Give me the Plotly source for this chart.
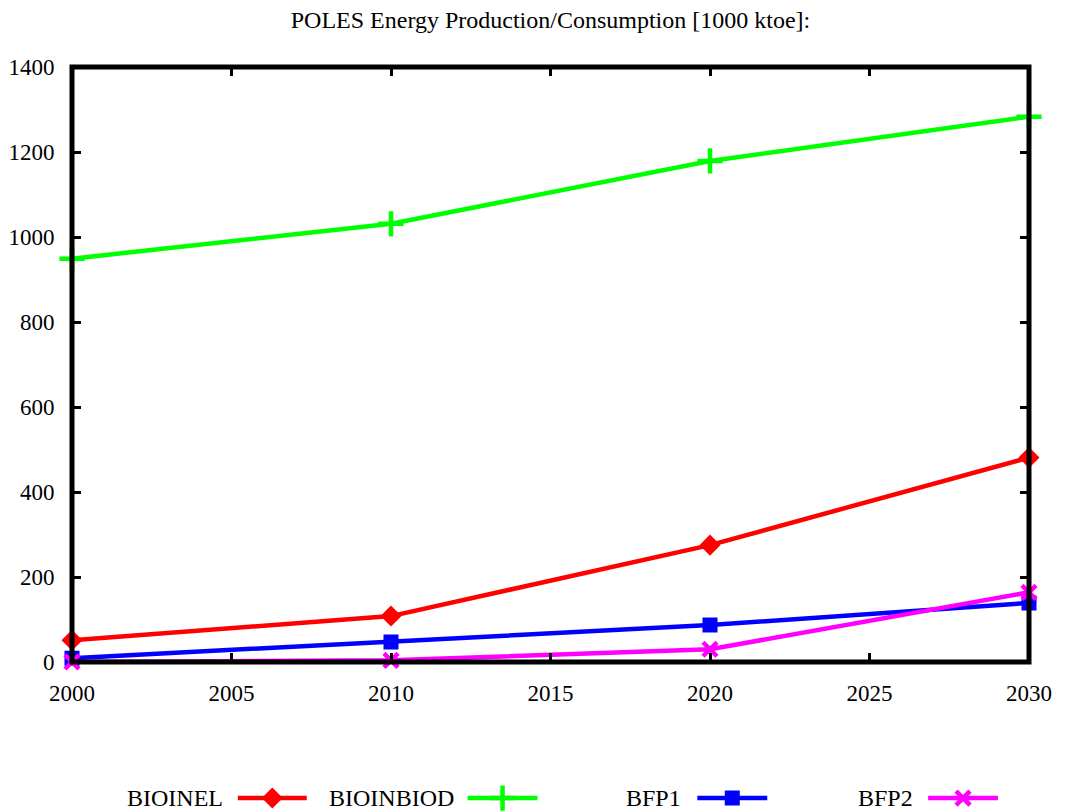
import plotly.graph_objects as go

# Data
years = [2000, 2010, 2020, 2030]
bioinel = [51, 108, 275, 481]
bioinbiod = [949, 1031, 1179, 1283]
bfp1 = [9, 47, 87, 139]
bfp2 = [0, 4, 30, 164]

series_names = ["BIOINEL", "BIOINBIOD", "BFP1", "BFP2"]
series_values = [bioinel, bioinbiod, bfp1, bfp2]
colors = ["#ff0000", "#00ff00", "#0000ff", "#ff00ff"]
symbols = ["diamond", "cross-thin", "square", "x-thin"]
msizes = [14, 18, 13, 14]

x_ticks = [2000, 2005, 2010, 2015, 2020, 2025, 2030]
y_ticks = [0, 200, 400, 600, 800, 1000, 1200, 1400]

FONT = "Liberation Serif"

W, H = 1066, 812
M_L, M_R, M_T, M_B = 72, 37, 67, 0
plot_bottom_px = 662
main_bottom = (H - plot_bottom_px) / (H - M_T - M_B)

# legend row layout (paper fractions across the plot width)
leg_text_right = [0.1597, 0.4008, 0.6388, 0.881]
leg_line_start = [0.1733, 0.4134, 0.6534, 0.8946]
leg_line_end = [0.2453, 0.4864, 0.7265, 0.9676]
leg_row_y = 0.093


def marker_for(i):
    sym = symbols[i]
    if sym in ("cross-thin", "x-thin"):
        return dict(symbol=sym, size=msizes[i], color=colors[i],
                    line=dict(color=colors[i], width=4.5))
    return dict(symbol=sym, size=msizes[i], color=colors[i],
                line=dict(color=colors[i], width=2))


fig = go.Figure()

for i, (name, vals) in enumerate(zip(series_names, series_values)):
    fig.add_trace(go.Scatter(
        x=years, y=vals, name=name, mode="lines+markers",
        line=dict(color=colors[i], width=4.5),
        marker=marker_for(i),
        cliponaxis=False, showlegend=False,
    ))

# legend samples drawn on a hidden axis pair below the plot
for i in range(len(series_names)):
    xs = [leg_line_start[i], (leg_line_start[i] + leg_line_end[i]) / 2, leg_line_end[i]]
    fig.add_trace(go.Scatter(
        x=xs, y=[leg_row_y] * 3, mode="lines", xaxis="x2", yaxis="y2",
        line=dict(color=colors[i], width=4.5), showlegend=False, hoverinfo="skip",
        cliponaxis=False,
    ))
    fig.add_trace(go.Scatter(
        x=[xs[1]], y=[leg_row_y], mode="markers", xaxis="x2", yaxis="y2",
        marker=marker_for(i), showlegend=False, hoverinfo="skip",
        cliponaxis=False,
    ))
    fig.add_annotation(
        x=leg_text_right[i], y=leg_row_y, xref="x2", yref="y2",
        text=series_names[i], showarrow=False, xanchor="right", yanchor="middle",
        font=dict(family=FONT, size=24, color="black"),
    )

axis_common = dict(
    showline=True, linewidth=1, linecolor="black", mirror="ticks",
    ticks="inside", ticklen=9, tickwidth=3, tickcolor="black",
    showgrid=False, zeroline=False,
    tickfont=dict(family=FONT, size=23, color="black"),
)

# heavy frame centred on the plot edges
fig.add_shape(type="rect", xref="x domain", yref="y domain",
              x0=0, x1=1, y0=0, y1=1, line=dict(color="black", width=5),
              layer="above")

fig.update_layout(
    width=W, height=H,
    font=dict(family=FONT, color="black"),
    margin=dict(l=M_L, r=M_R, t=M_T, b=M_B, autoexpand=False),
    paper_bgcolor="white", plot_bgcolor="white",
    title=dict(
        text="POLES Energy Production/Consumption [1000 ktoe]:",
        x=0.5, xref="paper", xanchor="center",
        y=1 - 20 / H, yref="container", yanchor="middle",
        font=dict(family=FONT, size=24, color="black"),
    ),
    xaxis=dict(range=[2000, 2030], tickvals=x_ticks, anchor="y",
               ticklabelstandoff=10, **axis_common),
    yaxis=dict(range=[0, 1400], tickvals=y_ticks, domain=[main_bottom, 1],
               ticklabelstandoff=12, **axis_common),
    xaxis2=dict(range=[0, 1], domain=[0, 1], anchor="y2", visible=False,
                fixedrange=True),
    yaxis2=dict(range=[0, 1], domain=[0, main_bottom], anchor="x2",
                visible=False, fixedrange=True),
    showlegend=False,
)

fig.write_html("out.html")
